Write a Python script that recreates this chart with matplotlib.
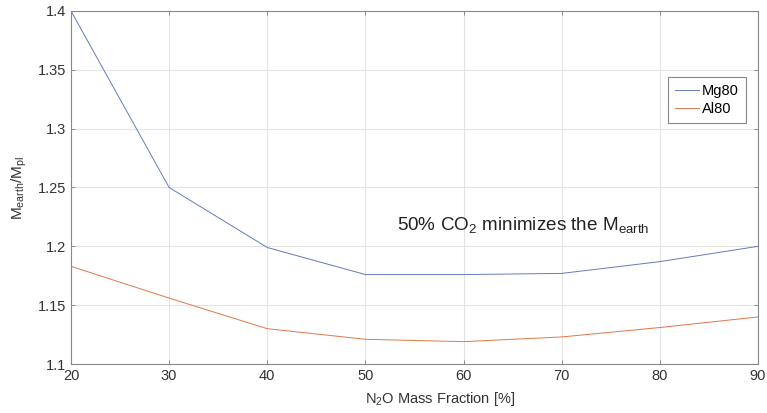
import numpy as np
import matplotlib
matplotlib.use('Agg')
import matplotlib.pyplot as plt

plt.rcParams['font.family'] = ['Liberation Sans', 'DejaVu Sans']
plt.rcParams['mathtext.fontset'] = 'custom'
plt.rcParams['mathtext.rm'] = 'Liberation Sans'
plt.rcParams['mathtext.it'] = 'Liberation Sans:italic'

n2o_frac = [20, 30, 40, 50, 60, 70, 80, 90]
mg80 = [1.400, 1.250, 1.199, 1.176, 1.176, 1.177, 1.187, 1.200]
al80 = [1.183, 1.156, 1.130, 1.121, 1.119, 1.123, 1.131, 1.140]

x_ticks = [20, 30, 40, 50, 60, 70, 80, 90]
y_ticks = [1.1, 1.15, 1.2, 1.25, 1.3, 1.35, 1.4]
y_ticklabels = ['1.1', '1.15', '1.2', '1.25', '1.3', '1.35', '1.4']

fig = plt.figure(figsize=(7.67, 4.13), dpi=100)
ax = fig.add_axes([71/767, 1 - 364/413, (758 - 71)/767, (364 - 11)/413])

ax.plot(n2o_frac, mg80, color=(0.40, 0.48, 0.74), lw=0.7, label='Mg80')
ax.plot(n2o_frac, al80, color=(0.88, 0.47, 0.28), lw=0.7, label='Al80')

ax.set_xlim(20, 90)
ax.set_ylim(1.1, 1.4)
ax.set_xticks(x_ticks)
ax.set_yticks(y_ticks)
ax.set_yticklabels(y_ticklabels)
ax.grid(True, color='#e3e3e3', lw=0.8)
ax.set_axisbelow(True)
ax.tick_params(direction='in', length=3, width=0.6, colors='#777777',
               labelcolor='#333333', labelsize=10.5, top=True, right=True)
for s in ax.spines.values():
    s.set_color('#888888')
    s.set_linewidth(0.8)

ax.set_xlabel(r'N$_2$O Mass Fraction [%]', fontsize=10.5, color='#333333', labelpad=1)
ax.xaxis.set_label_coords(0.537, -0.075)
ax.set_ylabel(r'M$_{\rm earth}$/M$_{\rm pl}$', fontsize=11, color='#333333', labelpad=6)

ax.text(53.2, 1.2185, r'50% CO$_2$ minimizes the M$_{\rm earth}$', fontsize=13.6,
        color='#222222', va='center', ha='left')

leg = ax.legend(loc='upper right', bbox_to_anchor=(0.993, 0.835), fontsize=10.5,
                handlelength=1.6, handletextpad=0.2, borderpad=0.5,
                labelspacing=0.3, fancybox=False, framealpha=1)
leg.get_frame().set_edgecolor('#888888')
leg.get_frame().set_linewidth(0.8)

fig.savefig('out.png', dpi=100)
